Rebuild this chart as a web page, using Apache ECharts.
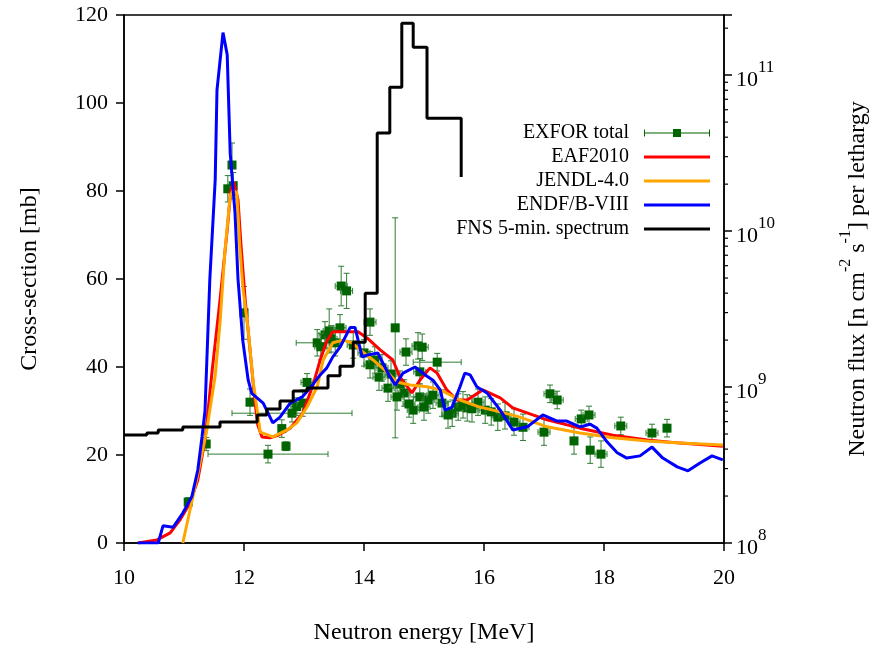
<!DOCTYPE html>
<html>
<head>
<meta charset="utf-8">
<script src="https://cdn.jsdelivr.net/npm/echarts@6/dist/echarts.min.js"></script>
<style>
  html, body { margin: 0; padding: 0; background: #fff; }
  #chart { width: 870px; height: 651px; }
</style>
</head>
<body>
<div id="chart"></div>
<script>
// EXFOR total: energy [MeV], cross-section [mb], energy error, xs error
const exforE = [11.07, 11.37, 11.73, 11.82, 11.80, 12.0, 12.1, 12.4, 12.7, 12.63, 12.8, 12.88, 12.98, 13.05,
  13.22, 13.35, 13.42, 13.62, 13.71, 13.6, 13.52, 13.82, 14.1, 14.1, 14.25, 14.4, 14.52, 14.7, 14.9, 14.67,
  14.82, 14.93, 15.07, 15.22, 14.97, 14.93, 15.47, 15.57, 15.72, 15.9, 16.02, 16.23, 16.65, 17.1, 17.22,
  17.0, 17.5, 17.62, 17.75, 17.77, 17.95, 18.28, 18.8, 19.05, 13.28, 13.45, 14.0, 14.18, 14.3, 14.45,
  14.6, 14.75, 15.0, 15.15, 15.3, 15.4, 15.65, 15.8, 16.12, 16.35, 16.5, 14.55];
const exforXS = [9.3, 22.5, 80.5, 81.2, 85.9, 52.3, 32, 20.2, 22, 26, 29.5, 31, 31.8, 36.5,
  45.5, 47.3, 48.2, 58.4, 57.3, 48.9, 45.5, 45, 50.2, 40.5, 37.7, 35.2, 48.9, 43.4, 44.8, 34.1,
  30.2, 33.2, 32.5, 41.1, 44.5, 38.9, 29.5, 30.9, 30.7, 32, 30.2, 28.6, 26.3, 33.9, 32.5,
  25.2, 23.2, 28.2, 29.1, 21.1, 20.2, 26.6, 25, 26.1, 44.6, 46.4, 43.2, 41.6, 39.8, 38.4,
  36.1, 31.6, 30.9, 33.6, 31.8, 29.1, 31.4, 30.5, 29.8, 28.9, 27.5, 33.2];
const exforDE = [0.05, 0.05, 0.05, 0.05, 0.05, 0.05, 0.05, 1.0, 0.05, 0.05, 1.0, 0.1, 0.1, 0.1,
  0.35, 0.1, 0.1, 0.1, 0.1, 0.1, 0.1, 0.1, 0.1, 0.1, 0.1, 0.1, 0.05, 0.1, 0.1, 0.1,
  0.1, 0.1, 0.1, 0.4, 0.1, 0.1, 0.1, 0.1, 0.1, 0.1, 0.1, 0.1, 0.1, 0.1, 0.1,
  0.1, 0.05, 0.1, 0.1, 0.05, 0.1, 0.1, 0.1, 0.05, 0.1, 0.1, 0.1, 0.1, 0.1, 0.1,
  0.1, 0.1, 0.1, 0.1, 0.1, 0.1, 0.1, 0.1, 0.1, 0.1, 0.1, 0.1];
const exforDXS = [1, 1.5, 3, 3, 5, 6, 3, 2, 1, 2, 2, 2, 3, 2,
  3, 3, 5, 4.5, 4, 3, 3, 3, 3, 3, 3, 3, 25, 3, 3, 3,
  3, 3, 3, 2, 3, 3, 3, 3, 3, 3, 3, 3, 3, 2, 2,
  3, 3, 2, 2, 3, 3, 2, 2, 2, 3, 3, 3, 3, 3, 3,
  3, 3, 3, 3, 3, 3, 3, 3, 3, 3, 3, 3];

// EAF2010
const eafE = [10.23, 10.55, 10.77, 10.93, 11.1, 11.23, 11.35, 11.47, 11.6, 11.72, 11.78, 11.83, 11.9, 11.95,
  12.02, 12.1, 12.18, 12.23, 12.3, 12.43, 12.57, 12.77, 12.98, 13.15, 13.27, 13.38, 13.48, 13.77, 13.9,
  14.05, 14.27, 14.48, 14.6, 14.8, 14.93, 15.1, 15.22, 15.38, 15.55, 15.72, 15.98, 16.27, 16.48, 17.05,
  17.6, 18.15, 18.72, 19.27, 19.98];
const eafXS = [0, 0.7, 2.3, 5.2, 9.1, 14.3, 23.4, 39.3, 55.2, 71.1, 80.2, 82, 78, 67.7,
  55.2, 43.9, 32.5, 26.8, 24.1, 23.9, 24.5, 26.1, 29.5, 35.9, 41.6, 45.9, 48, 48, 48,
  46.6, 43.9, 41.6, 37.7, 34.1, 37, 39.8, 38.6, 34.8, 32.5, 32.5, 34.8, 33, 30.7, 28,
  26.1, 24.5, 23.4, 22.7, 22];

// JENDL-4.0
const jendlE = [10.98, 11.22, 11.38, 11.52, 11.6, 11.68, 11.77, 11.82, 11.88, 11.93, 11.98, 12.07, 12.15,
  12.22, 12.27, 12.48, 12.72, 12.88, 13.05, 13.22, 13.32, 13.48, 13.65, 13.8, 13.9, 14.15, 14.38, 14.55,
  14.77, 15.05, 15.27, 15.6, 15.93, 16.27, 16.6, 17.05, 17.6, 18.15, 18.72, 19.27, 19.98];
const jendlXS = [0, 15, 25.7, 38, 50, 66, 79, 80.2, 79.5, 67.3, 58.2, 48.4, 37,
  30.2, 25.2, 24.1, 25.7, 27.3, 30.9, 35.5, 41.6, 45.5, 46.1, 45.5, 44.3, 41.6, 38.9, 36.6,
  35.9, 35.5, 34.8, 32.5, 30.9, 29.8, 28.6, 26.4, 25, 23.9, 23.2, 22.7, 22.3];

// ENDF/B-VIII
const endfE = [10.23, 10.57, 10.65, 10.82, 10.98, 11.13, 11.23, 11.3, 11.35, 11.43, 11.52, 11.55, 11.65,
  11.72, 11.77, 11.85, 11.9, 11.98, 12.07, 12.13, 12.32, 12.48, 12.6, 12.77, 12.97, 13.1, 13.27, 13.38,
  13.48, 13.6, 13.77, 13.85, 13.97, 14.05, 14.23, 14.4, 14.52, 14.65, 14.85, 15.02, 15.15, 15.27, 15.35,
  15.47, 15.6, 15.68, 15.77, 15.88, 16.05, 16.27, 16.48, 16.72, 16.98, 17.22, 17.38, 17.6, 17.77, 17.88,
  18.05, 18.22, 18.38, 18.6, 18.8, 18.98, 19.22, 19.4, 19.6, 19.8, 19.98];
const endfXS = [0, 0, 3.9, 3.6, 6.8, 10.5, 16.6, 24.1, 30, 59.8, 82.5, 103, 116,
  111, 88.6, 75, 60, 46, 37, 34, 31.8, 27.3, 28.6, 31.8, 33.2, 35.2, 38.2, 39.8,
  42.3, 44.5, 49, 49, 42.3, 42.7, 43.2, 38.6, 35.9, 38.6, 40, 38.2, 37, 34.8, 30.2,
  30.9, 35.5, 38.6, 38.2, 35.5, 34.1, 30.2, 25.7, 26.4, 29.1, 27.7, 27.7, 26.4, 27, 26.1,
  23, 20.5, 19.3, 19.8, 21.8, 19.3, 17.3, 16.4, 18.2, 19.8, 18.9];

// FNS 5-min. spectrum: bin edges [MeV] and flux per bin, last value is the end of the final drop
const fnsEdges = [10.0, 10.38, 10.57, 10.98, 11.6, 12.22, 12.38, 12.6, 12.82, 13.05, 13.4, 13.6, 13.82,
  14.02, 14.22, 14.43, 14.63, 14.82, 15.05, 15.62];
const fnsFlux = [4.92e8, 5.07e8, 5.3e8, 5.54e8, 5.97e8, 6.62e8, 7.23e8, 8.13e8, 9.42e8, 9.86e8, 1.18e9,
  1.36e9, 1.94e9, 4.0e9, 4.25e10, 8.37e10, 2.15e11, 1.51e11, 5.3e10, 2.22e10];

// right (log) axis tick values
const fluxMajor = [1e8, 1e9, 1e10, 1e11];
const fluxMinor = [2e8, 3e8, 4e8, 5e8, 6e8, 7e8, 8e8, 9e8, 2e9, 3e9, 4e9, 5e9, 6e9, 7e9, 8e9, 9e9,
  2e10, 3e10, 4e10, 5e10, 6e10, 7e10, 8e10, 9e10, 2e11];

const FONT = 'Liberation Serif';
const LINE_ICON = 'path://M0,0h66v3h-66z';
const chart = echarts.init(document.getElementById('chart'));

function renderErr(params, api) {
  const x = api.value(0), y = api.value(1), dx = api.value(2), dy = api.value(3);
  const c = api.coord([x, y]);
  const l = api.coord([x - dx, y])[0], r = api.coord([x + dx, y])[0];
  const t = api.coord([x, y + dy])[1], b = api.coord([x, y - dy])[1];
  const st = { stroke: '#2e7d32', lineWidth: 1 };
  return {
    type: 'group',
    children: [
      { type: 'line', shape: { x1: l, y1: c[1], x2: r, y2: c[1] }, style: st },
      { type: 'line', shape: { x1: l, y1: c[1] - 3, x2: l, y2: c[1] + 3 }, style: st },
      { type: 'line', shape: { x1: r, y1: c[1] - 3, x2: r, y2: c[1] + 3 }, style: st },
      { type: 'line', shape: { x1: c[0], y1: t, x2: c[0], y2: b }, style: st },
      { type: 'line', shape: { x1: c[0] - 3, y1: t, x2: c[0] + 3, y2: t }, style: st },
      { type: 'line', shape: { x1: c[0] - 3, y1: b, x2: c[0] + 3, y2: b }, style: st },
      { type: 'rect', shape: { x: c[0] - 4.5, y: c[1] - 4.5, width: 9, height: 9 }, style: { fill: '#006400' } }
    ]
  };
}

// minor log ticks on the right axis, outward like the major ones
function renderMinorTick(params, api) {
  const p = api.coord([20, api.value(1)]);
  return { type: 'line', shape: { x1: p[0], y1: p[1], x2: p[0] + 4, y2: p[1] }, style: { stroke: '#000', lineWidth: 1.2 } };
}

const pairs = (xs, ys) => xs.map((x, i) => [x, ys[i]]);
const lineSeries = (name, xs, ys, color) => ({
  name, type: 'line', data: pairs(xs, ys), showSymbol: false, symbol: 'none',
  lineStyle: { color, width: 3 }, itemStyle: { color }
});

const option = {
  animation: false,
  textStyle: { fontFamily: FONT, color: '#000' },
  grid: {
    left: 124, right: 146, top: 15, bottom: 108, outerBoundsMode: 'none', containLabel: false,
    show: true, borderColor: '#000', borderWidth: 1.5
  },
  legend: {
    orient: 'vertical', right: 155, top: 118, align: 'right',
    itemWidth: 66, itemHeight: 8, itemGap: 4,
    textStyle: { fontFamily: FONT, fontSize: 20, color: '#000', lineHeight: 20, padding: [0, 10, 0, 0] },
    data: [
      { name: 'EXFOR total', icon: 'path://M0,3.5h66v1h-66z M0,0.5h1v7h-1z M65,0.5h1v7h-1z M29,0h8v8h-8z' },
      { name: 'EAF2010', icon: LINE_ICON },
      { name: 'JENDL-4.0', icon: LINE_ICON },
      { name: 'ENDF/B-VIII', icon: LINE_ICON },
      { name: 'FNS 5-min. spectrum', icon: LINE_ICON }
    ]
  },
  xAxis: {
    type: 'value', min: 10, max: 20, interval: 2,
    name: 'Neutron energy [MeV]', nameLocation: 'middle', nameGap: 78,
    nameTextStyle: { fontFamily: FONT, fontSize: 24, color: '#000' },
    axisLine: { lineStyle: { color: '#000', width: 1.5 } },
    axisTick: { length: 8, lineStyle: { color: '#000', width: 1.5 } },
    axisLabel: { fontFamily: FONT, fontSize: 22, color: '#000', margin: 24 },
    splitLine: { show: false }
  },
  yAxis: [
    {
      type: 'value', min: 0, max: 120, interval: 20,
      name: 'Cross-section [mb]', nameLocation: 'middle', nameGap: 82, nameRotate: 90,
      nameTextStyle: { fontFamily: FONT, fontSize: 24, color: '#000' },
      axisLine: { show: true, lineStyle: { color: '#000', width: 1.5 } },
      axisTick: { show: true, length: 8, lineStyle: { color: '#000', width: 1.5 } },
      axisLabel: { fontFamily: FONT, fontSize: 22, color: '#000', margin: 16 },
      splitLine: { show: false }
    },
    {
      type: 'log', logBase: 10, min: 1e8, max: 2.43e11, position: 'right',
      name: '{b|Neutron flux [n cm}{sup|-2}{b| s}{sup|-1}{b|] per lethargy}',
      nameLocation: 'middle', nameGap: 114, nameRotate: 90,
      nameTextStyle: {
        rich: {
          b: { fontFamily: FONT, fontSize: 24, color: '#000', lineHeight: 32, verticalAlign: 'bottom' },
          sup: { fontFamily: FONT, fontSize: 16, color: '#000', lineHeight: 14, verticalAlign: 'top' }
        }
      },
      axisLine: { show: true, lineStyle: { color: '#000', width: 1.5 } },
      axisTick: { show: true, length: 8, lineStyle: { color: '#000', width: 1.5 } },
      axisLabel: {
        margin: 12,
        formatter: v => {
          const p = Math.log10(v);
          return Math.abs(p - Math.round(p)) < 1e-6 ? '{b|10}{sup|' + Math.round(p) + '}' : '';
        },
        rich: {
          b: { fontFamily: FONT, fontSize: 22, color: '#000', lineHeight: 32, verticalAlign: 'bottom' },
          sup: { fontFamily: FONT, fontSize: 17, color: '#000', lineHeight: 14, verticalAlign: 'top' }
        }
      },
      splitLine: { show: false }
    }
  ],
  series: [
    {
      name: 'EXFOR total', type: 'custom', renderItem: renderErr,
      itemStyle: { color: '#006400' },
      encode: { x: 0, y: 1 },
      data: exforE.map((e, i) => [e, exforXS[i], exforDE[i], exforDXS[i]])
    },
    lineSeries('EAF2010', eafE, eafXS, '#ff0000'),
    lineSeries('JENDL-4.0', jendlE, jendlXS, '#ffa500'),
    lineSeries('ENDF/B-VIII', endfE, endfXS, '#0000ff'),
    {
      name: 'FNS 5-min. spectrum', type: 'line', yAxisIndex: 1, step: 'end',
      data: pairs(fnsEdges, fnsFlux), showSymbol: false, symbol: 'none',
      lineStyle: { color: '#000', width: 3 }, itemStyle: { color: '#000' }
    },
    {
      name: 'minor ticks', type: 'custom', yAxisIndex: 1, clip: false, silent: true,
      renderItem: renderMinorTick, encode: { x: 0, y: 1 },
      data: fluxMinor.map(v => [20, v])
    }
  ]
};

chart.setOption(option);
</script>
</body>
</html>
